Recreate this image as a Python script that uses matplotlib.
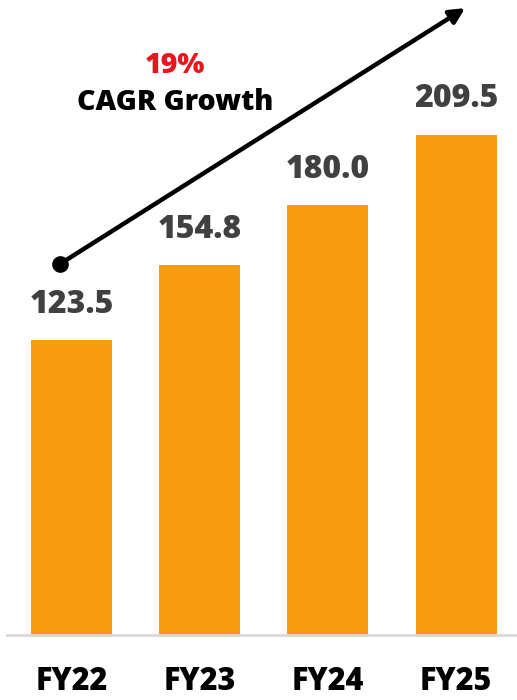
"""Revenue bar chart with CAGR arrow."""

import matplotlib

matplotlib.use("Agg")
from matplotlib import pyplot as plt  # noqa: E402

years = ["FY22", "FY23", "FY24", "FY25"]
values = [123.5, 154.8, 180.0, 209.5]
value_labels = ["123.5", "154.8", "180.0", "209.5"]
cagr_pct = "19%"
cagr_text = "CAGR Growth"

BAR_COLOR = "#FA9C10"
LABEL_COLOR = "#404040"
CAGR_COLOR = "#E8161E"

plt.rcParams["font.family"] = ["Open Sans", "DejaVu Sans"]

fig = plt.figure(figsize=(5.17, 7.0), dpi=100)
ax = fig.add_axes([7 / 517, 65 / 700, 510 / 517, 635 / 700])

positions = list(range(len(years)))
ax.bar(positions, values, width=0.632, color=BAR_COLOR, zorder=2)

for x, v, lab in zip(positions, values, value_labels):
    ax.annotate(lab, (x, v), xytext=(0, 14), textcoords="offset points",
                ha="center", va="bottom", fontsize=23, fontweight="heavy",
                color=LABEL_COLOR)

ax.set_xlim(-0.503, 3.475)
ax.set_ylim(0, 265.8)

for side in ("top", "right", "left"):
    ax.spines[side].set_visible(False)
ax.spines["bottom"].set_color("#d9d9d9")
ax.spines["bottom"].set_linewidth(2)
ax.set_yticks([])
ax.set_xticks(positions)
ax.set_xticklabels(years, fontsize=22, fontweight="heavy", color="black")
ax.tick_params(axis="x", length=0, pad=22)

# CAGR arrow from dot above FY22 up past FY25
start = (-0.09, 155.3)
end = (3.07, 262.4)
ax.annotate("", xy=end, xytext=start,
            arrowprops=dict(arrowstyle="-|>,head_length=0.9,head_width=0.45",
                            color="black", lw=3.2, shrinkA=0, shrinkB=0),
            annotation_clip=False, zorder=3)
ax.plot(*start, "o", color="black", markersize=11, zorder=4, clip_on=False)

ax.text(0.81, 238.5, cagr_pct, ha="center", va="center", fontsize=20.5,
        fontweight="heavy", color=CAGR_COLOR)
ax.text(0.81, 223, cagr_text, ha="center", va="center", fontsize=20.5,
        fontweight="heavy", color="black")

fig.savefig("out.png", dpi=100)
